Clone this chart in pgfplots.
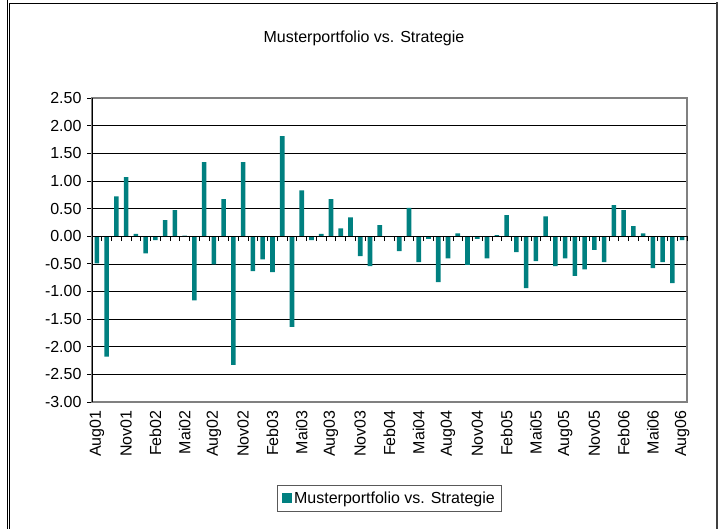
\documentclass[border=0pt]{standalone}
\usepackage{pgfplots}
\pgfplotsset{compat=1.18}
\usepackage{pgfplotstable}
\usepackage{fontspec}
\setmainfont{Liberation Sans}
\definecolor{barteal}{HTML}{008080}
\pgfplotstableread{
x y
0 -0.49
1 -2.18
2 0.72
3 1.07
4 0.04
5 -0.31
6 -0.07
7 0.29
8 0.47
9 0.01
10 -1.16
11 1.34
12 -0.51
13 0.67
14 -2.33
15 1.34
16 -0.63
17 -0.42
18 -0.65
19 1.81
20 -1.64
21 0.83
22 -0.07
23 0.04
24 0.67
25 0.14
26 0.34
27 -0.36
28 -0.54
29 0.20
30 0.00
31 -0.27
32 0.51
33 -0.47
34 -0.05
35 -0.83
36 -0.40
37 0.05
38 -0.52
39 -0.05
40 -0.40
41 0.02
42 0.38
43 -0.29
44 -0.94
45 -0.45
46 0.36
47 -0.54
48 -0.40
49 -0.72
50 -0.60
51 -0.25
52 -0.47
53 0.56
54 0.47
55 0.18
56 0.05
57 -0.58
58 -0.47
59 -0.85
60 -0.07
}\datatable
\begin{document}
\begin{tikzpicture}[font=\fontsize{16bp}{19bp}\selectfont]
\useasboundingbox (0,0) rectangle (723bp,529bp);
% outer frame
\draw[black, line width=0.8bp] (7bp,0) -- (7bp,529bp);
\draw[black, line width=0.8bp] (9bp,0) -- (9bp,525.5bp) -- (717bp,525.5bp);
\draw[black!75, line width=2bp] (717bp,526.5bp) -- (717bp,0);
\node at (364bp,491bp) {Musterportfolio vs. Strategie};
\begin{axis}[
  at={(92bp,127bp)}, anchor=south west,
  scale only axis, width=595bp, height=304bp,
  xmin=-0.5, xmax=60.5, ymin=-3, ymax=2.5,
  ybar, bar width=4.6bp,
  axis line style={draw=gray, line width=2bp},
  ymajorgrids, grid style={black, line width=0.6bp},
  ytick={-3,-2.5,-2,-1.5,-1,-0.5,0,0.5,1,1.5,2,2.5},
  yticklabels={-3.00,-2.50,-2.00,-1.50,-1.00,-0.50,0.00,0.50,1.00,1.50,2.00,2.50},
  xtick={0,3,...,60},
  xticklabels={Aug01,Nov01,Feb02,Mai02,Aug02,Nov02,Feb03,Mai03,Aug03,Nov03,Feb04,Mai04,Aug04,Nov04,Feb05,Mai05,Aug05,Nov05,Feb06,Mai06,Aug06},
  xtick style={draw=none},
  ytick style={black, line width=0.8bp},
  tick align=outside, major tick length=5bp,
  ytick pos=left, xtick pos=bottom,
  yticklabel style={font=\fontsize{16bp}{19bp}\selectfont, xshift=-2bp},
  xticklabel style={font=\fontsize{16bp}{19bp}\selectfont, rotate=90, anchor=east, yshift=0bp},
  legend style={at={(0.5,-0.3174)}, anchor=center, draw=black!65, line width=0.9bp,
    font=\fontsize{16bp}{19bp}\selectfont, inner xsep=5bp, inner ysep=4.5bp},
  legend image code/.code={\fill[barteal] (0bp,-5bp) rectangle (10bp,5bp);},
]
\addplot[fill=barteal, draw=none] table[x=x,y=y] {\datatable};
\addlegendentry{Musterportfolio vs. Strategie}
\draw[black, line width=0.8bp] (rel axis cs:0,0) -- (rel axis cs:0,1);
\end{axis}
\begin{axis}[
  at={(92bp,127bp)}, anchor=south west,
  scale only axis, width=595bp, height=304bp,
  xmin=-0.5, xmax=60.5, ymin=-3, ymax=2.5,
  axis x line=middle, axis y line=none,
  xtick={-0.5,0.5,...,60.5}, xticklabels={}, ytick=\empty,
  major tick length=5bp, tick align=center,
  xtick style={black, line width=0.8bp, yshift=-2.5bp},
  x axis line style={-, black, line width=0.8bp},
]
\end{axis}
\end{tikzpicture}
\end{document}
